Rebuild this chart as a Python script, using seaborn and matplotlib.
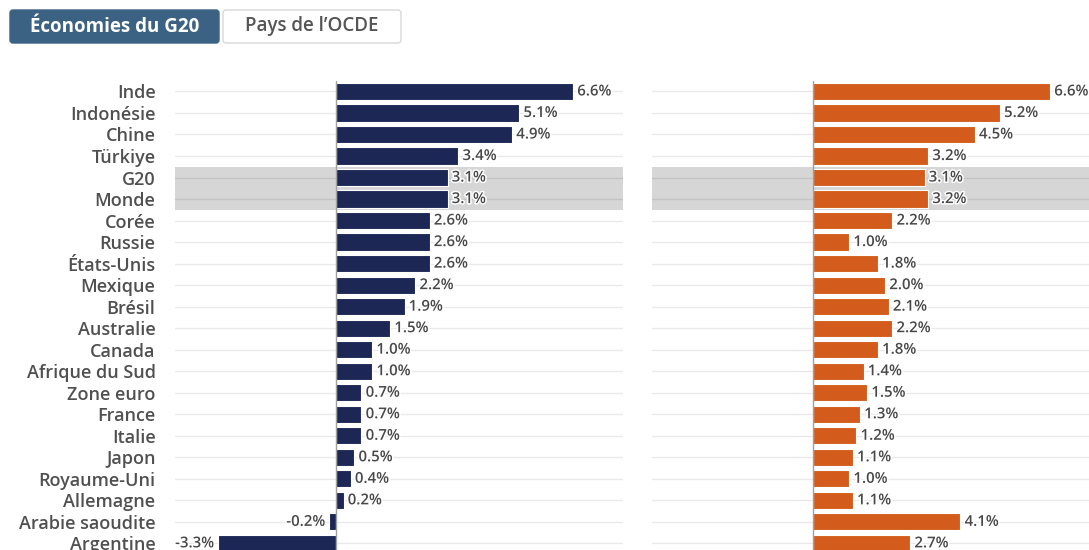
import matplotlib
matplotlib.use("Agg")
import matplotlib.pyplot as plt
import matplotlib.patheffects as pe
from matplotlib.patches import FancyBboxPatch
import seaborn as sns
import pandas as pd

# ---- data ----
categories = ["Inde", "Indonésie", "Chine", "Türkiye", "G20", "Monde", "Corée",
              "Russie", "États-Unis", "Mexique", "Brésil", "Australie", "Canada",
              "Afrique du Sud", "Zone euro", "France", "Italie", "Japon",
              "Royaume-Uni", "Allemagne", "Arabie saoudite", "Argentine"]
values_left = [6.6, 5.1, 4.9, 3.4, 3.1, 3.1, 2.6, 2.6, 2.6, 2.2, 1.9, 1.5, 1.0,
               1.0, 0.7, 0.7, 0.7, 0.5, 0.4, 0.2, -0.2, -3.3]
values_right = [6.6, 5.2, 4.5, 3.2, 3.1, 3.2, 2.2, 1.0, 1.8, 2.0, 2.1, 2.2, 1.8,
                1.4, 1.5, 1.3, 1.2, 1.1, 1.0, 1.1, 4.1, 2.7]
highlight = ["G20", "Monde"]
tabs = ["Économies du G20", "Pays de l’OCDE"]

NAVY = "#1c2755"
ORANGE = "#d35b1b"
BAND = "#d6d6d6"

sns.set_theme(style="white")
plt.rcParams["font.family"] = ["Open Sans", "DejaVu Sans"]

W, H = 1089, 550
fig = plt.figure(figsize=(W / 100, H / 100), dpi=100)

def px_axes(x0, x1, ytop, ybot):
    return [x0 / W, 1 - ybot / H, (x1 - x0) / W, (ybot - ytop) / H]

ytop = 80.7
ybot = ytop + 22 * 21.52
axL = fig.add_axes(px_axes(175, 175 + 448.3, ytop, ybot))
axR = fig.add_axes(px_axes(652, 652 + 448.3, ytop, ybot))

df = pd.DataFrame({"cat": categories, "left": values_left, "right": values_right})

for ax, col, color in [(axL, "left", NAVY), (axR, "right", ORANGE)]:
    sns.barplot(data=df, x=col, y="cat", ax=ax, color=color, saturation=1,
                width=0.8, edgecolor="white", linewidth=0.8, zorder=3)
    ax.set_xlim(-4.5, 8.0)
    ax.set_ylim(len(categories) - 0.5, -0.5)
    # highlight band
    idx = [categories.index(h) for h in highlight]
    ax.axhspan(min(idx) - 0.5, max(idx) + 0.5, color=BAND, zorder=0, lw=0)
    # horizontal gridlines
    for i in range(len(categories)):
        ax.axhline(i, color="black", alpha=0.085, lw=1.0, zorder=1)
    ax.axvline(0, color="#a0a0a0", lw=1.0, zorder=4)
    for s in ax.spines.values():
        s.set_visible(False)
    ax.set_xlabel("")
    ax.set_ylabel("")
    ax.set_xticks([])
    ax.tick_params(axis="y", length=0)
    for i, v in enumerate(df[col]):
        off = 3 if v >= 0 else -3
        t = ax.annotate(f"{v:.1f}%", xy=(v, i), xytext=(off, 0),
                        textcoords="offset points",
                        ha="left" if v >= 0 else "right", va="center",
                        fontsize=10.8, fontweight="semibold", color="#484848",
                        zorder=5, annotation_clip=False)
        t.set_path_effects([pe.withStroke(linewidth=2.2, foreground="white")])

axL.tick_params(axis="y", pad=14, labelsize=13, labelcolor="#505050")
for lab in axL.get_yticklabels():
    lab.set_fontweight("semibold")
axR.set_yticklabels([])

# ---- tab buttons ----
def button(x0, x1, y0, y1, face, edge):
    p = FancyBboxPatch((x0 / 100, (H - y1) / 100), (x1 - x0) / 100, (y1 - y0) / 100,
                       boxstyle="round,pad=0,rounding_size=0.03",
                       transform=fig.dpi_scale_trans, facecolor=face,
                       edgecolor=edge, linewidth=1.0)
    fig.patches.append(p)

button(10, 219, 10, 43, "#3b6282", "#3b6282")
button(223, 401, 10, 43, "white", "#d8d8d8")
fig.text(114.5 / W, 1 - 26.5 / H, tabs[0], ha="center", va="center",
         fontsize=13.5, fontweight="bold", color="white")
fig.text(312 / W, 1 - 26.5 / H, tabs[1], ha="center", va="center",
         fontsize=13.5, fontweight="semibold", color="#555555")

fig.savefig("out.png", dpi=100)
